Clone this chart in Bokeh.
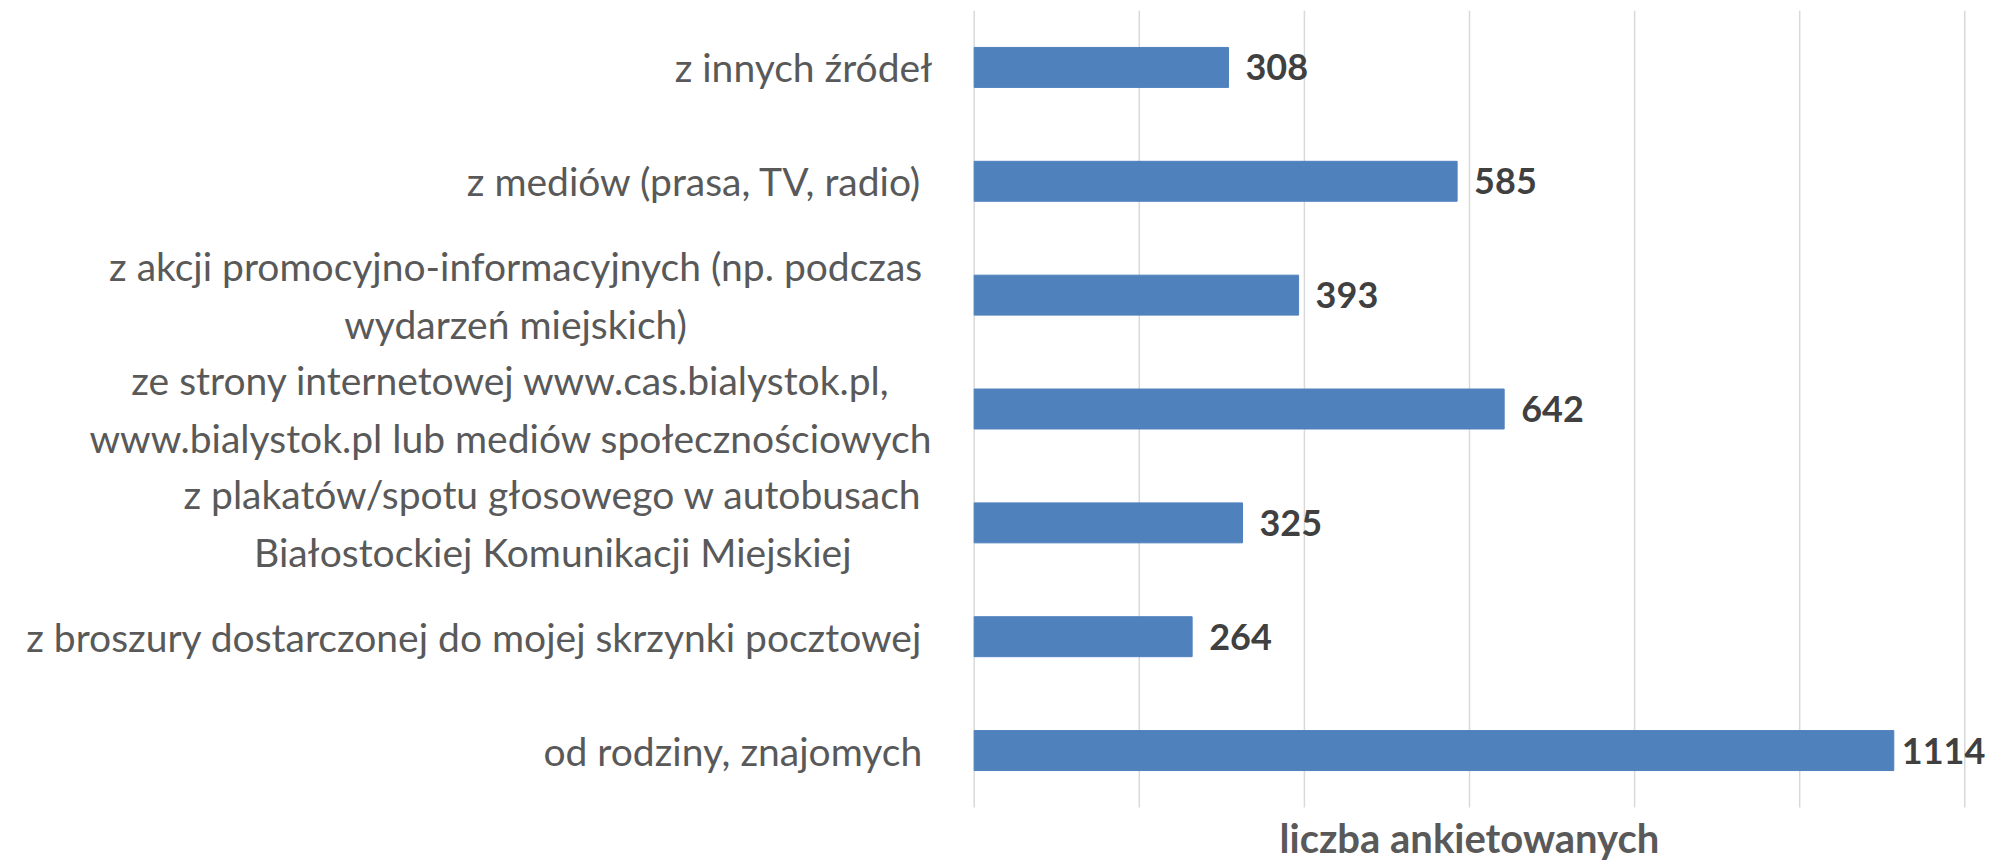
from bokeh.plotting import figure
from bokeh.models import Range1d, ColumnDataSource
from bokeh.core.properties import value
from bokeh.embed import file_html
from bokeh.resources import INLINE

categories = [
    "z innych źródeł",
    "z mediów (prasa, TV, radio) ",
    "z akcji promocyjno-informacyjnych (np. podczas \nwydarzeń miejskich) ",
    "ze strony internetowej www.cas.bialystok.pl,\nwww.bialystok.pl lub mediów społecznościowych",
    "z plakatów/spotu głosowego w autobusach \nBiałostockiej Komunikacji Miejskiej ",
    "z broszury dostarczonej do mojej skrzynki pocztowej ",
    "od rodziny, znajomych ",
]
values = [308, 585, 393, 642, 325, 264, 1114]
grid_ticks = [0, 200, 400, 600, 800, 1000, 1200]
axis_title = "liczba ankietowanych"

FONT = "Lato"
W, H = 1990, 860
TOP = 10                 # frame top (px)
ZERO_PX = 973.7          # screen x of value 0
PX_PER_UNIT = 990.6 / 1200.0
CAT_PX = 797.0 / 7.0     # px per category band

n = len(categories)
ys = [n - 1 - i for i in range(n)]

x_start = -ZERO_PX / PX_PER_UNIT
x_end = (W - ZERO_PX) / PX_PER_UNIT
y_end = n - 0.5
y_start = y_end - (H - TOP) / CAT_PX

src = ColumnDataSource(dict(
    y=ys,
    v=values,
    cat=categories,
    lbl=[str(v) for v in values],
    off=[8 if v == max(values) else 17 for v in values],
    zero=[0] * n,
))

grid_src = ColumnDataSource(dict(
    x=grid_ticks,
    y0=[-0.5] * len(grid_ticks),
    y1=[n - 0.5] * len(grid_ticks),
))

p = figure(
    width=W, height=H,
    x_range=Range1d(x_start, x_end),
    y_range=Range1d(y_start, y_end),
    x_axis_location=None, y_axis_location=None,
    output_backend="svg", toolbar_location=None,
    min_border_left=0, min_border_right=0,
    min_border_top=TOP, min_border_bottom=0,
)
p.outline_line_color = None
p.background_fill_color = "white"
p.grid.visible = False

p.segment(x0="x", x1="x", y0="y0", y1="y1", source=grid_src,
          line_color="#d9d9d9", line_width=1.5)

p.hbar(y="y", left="zero", right="v", height=0.351, source=src,
       fill_color="#4f81bd", line_color="#4f81bd")

p.text(x="v", y="y", text="lbl", source=src, x_offset="off",
       text_align="left", text_baseline="middle",
       text_font=value(FONT), text_font_style="bold",
       text_font_size="36px", text_color="#404040")

p.text(x="zero", y="y", text="cat", source=src, x_offset=-42,
       text_align="center", anchor=value("center_right"),
       text_baseline="middle", text_line_height=1.27,
       text_font=value(FONT), text_font_size="39px", text_color="#595959")

p.text(x=[600], y=[y_start + (H - 837) / CAT_PX], text=[axis_title],
       text_align="center", text_baseline="middle",
       text_font=value(FONT), text_font_style="bold",
       text_font_size="40px", text_color="#595959")

open("out.html", "w").write(file_html(p, INLINE))
